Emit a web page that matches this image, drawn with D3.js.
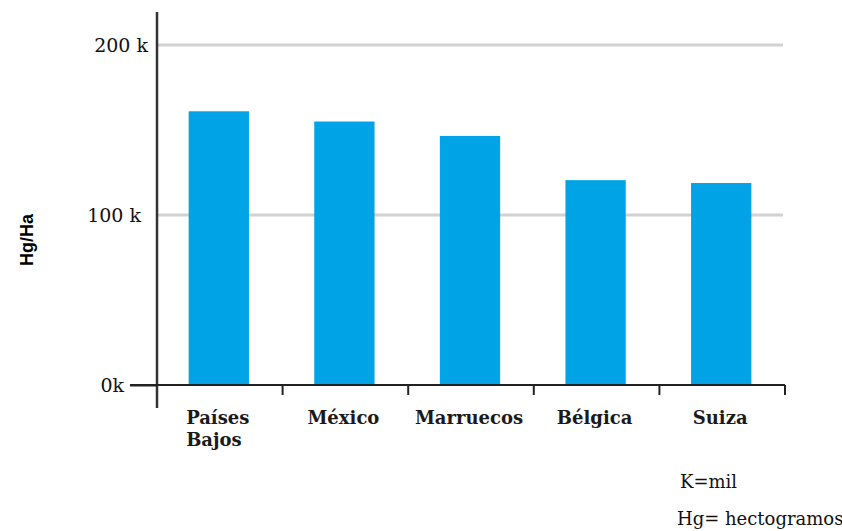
<!DOCTYPE html>
<html>
<head>
<meta charset="utf-8">
<script src="https://cdn.jsdelivr.net/npm/d3@7"></script>
<style>
  html, body { margin: 0; padding: 0; background: #fff; }
  svg { display: block; }
</style>
</head>
<body>
<svg id="chart" width="842" height="531"></svg>
<script>
// Rendimiento por país (Hg/Ha)
const countries = [["Países", "Bajos"], ["México"], ["Marruecos"], ["Bélgica"], ["Suiza"]];
const yields = [161000, 155000, 146500, 120500, 118800];
const yTicks = [0, 100000, 200000];
const yTickLabels = ["0k", "100 k", "200 k"];
const yTitle = "Hg/Ha";
const notes = ["K=mil", "Hg= hectogramos"];

const svg = d3.select("#chart");
const plotLeft = 157, plotRight = 785, plotTop = 45, plotBase = 385;

const keys = countries.map(c => c.join(" "));
const x = d3.scaleBand().domain(keys).range([plotLeft, plotRight]).padding(0);
const y = d3.scaleLinear().domain([0, 200000]).range([plotBase, plotTop]);

const serif = "'DejaVu Serif', 'Liberation Serif', serif";

// horizontal grid lines
svg.append("g")
  .selectAll("line")
  .data(yTicks.filter(v => v > 0))
  .join("line")
  .attr("x1", plotLeft).attr("x2", 783)
  .attr("y1", d => y(d)).attr("y2", d => y(d))
  .attr("stroke", "#d2d2d2").attr("stroke-width", 3);

// bars
const barW = x.bandwidth() * 0.48;
svg.append("g")
  .selectAll("rect")
  .data(yields)
  .join("rect")
  .attr("x", (d, i) => x(keys[i]) + x.bandwidth() / 2 - barW / 2 - 1)
  .attr("y", d => y(d))
  .attr("width", barW)
  .attr("height", d => plotBase - y(d))
  .attr("fill", "#00a3e6");

// y axis labels
const yAxis = d3.axisLeft(y)
  .tickValues(yTicks)
  .tickFormat((d, i) => yTickLabels[i])
  .tickSize(0);
const gy = svg.append("g").attr("transform", `translate(${plotLeft},0)`).call(yAxis);
gy.select(".domain").remove();
gy.selectAll(".tick text")
  .attr("font-family", serif)
  .attr("font-size", 19)
  .attr("fill", "#111")
  .attr("x", d => d === 0 ? -33 : (d === 100000 ? -16 : -9))
  .attr("dy", "0.32em");
// tick mark at zero
gy.select(".tick line")
  .attr("x2", -27).attr("stroke", "#222").attr("stroke-width", 2);

// y axis line
svg.append("line")
  .attr("x1", plotLeft).attr("x2", plotLeft)
  .attr("y1", 12).attr("y2", 408)
  .attr("stroke", "#333").attr("stroke-width", 2.5);

// x axis
const xAxis = d3.axisBottom(x).tickSize(0).tickFormat("");
const gx = svg.append("g").attr("transform", `translate(0,${plotBase})`).call(xAxis);
gx.select(".domain").remove();
svg.append("line")
  .attr("x1", 130).attr("x2", plotRight)
  .attr("y1", plotBase).attr("y2", plotBase)
  .attr("stroke", "#222").attr("stroke-width", 2);
// band boundary ticks
svg.append("g")
  .selectAll("line")
  .data(keys.slice(1).map(k => x(k)).concat([plotRight]))
  .join("line")
  .attr("x1", d => d).attr("x2", d => d)
  .attr("y1", plotBase).attr("y2", plotBase + 10)
  .attr("stroke", "#222").attr("stroke-width", 2);

// category labels
const labels = svg.append("g")
  .selectAll("text")
  .data(countries)
  .join("text")
  .attr("font-family", serif)
  .attr("font-weight", "bold")
  .attr("font-size", 18)
  .attr("fill", "#1a1a1a")
  .attr("y", 424);
labels.each(function(lines, i) {
  const t = d3.select(this);
  const cx = x(keys[i]) + x.bandwidth() / 2 - 2;
  const first = t.append("tspan").attr("text-anchor", "middle").attr("x", cx).text(lines[0]);
  if (lines.length > 1) {
    const w = first.node().getComputedTextLength();
    t.append("tspan").attr("x", cx - w / 2).attr("dy", 22).text(lines[1]);
  }
});

// y title
svg.append("text")
  .attr("transform", "translate(33,240) rotate(-90)")
  .attr("text-anchor", "middle")
  .attr("font-family", "'Liberation Sans', Arial, sans-serif")
  .attr("font-weight", "bold")
  .attr("font-size", 18)
  .attr("fill", "#000")
  .text(yTitle);

// notes
svg.append("g")
  .selectAll("text")
  .data(notes)
  .join("text")
  .attr("x", (d, i) => i === 0 ? 680 : 677)
  .attr("y", (d, i) => i === 0 ? 488 : 525)
  .attr("font-family", serif)
  .attr("font-size", 18)
  .attr("fill", "#111")
  .text(d => d);
</script>
</body>
</html>
